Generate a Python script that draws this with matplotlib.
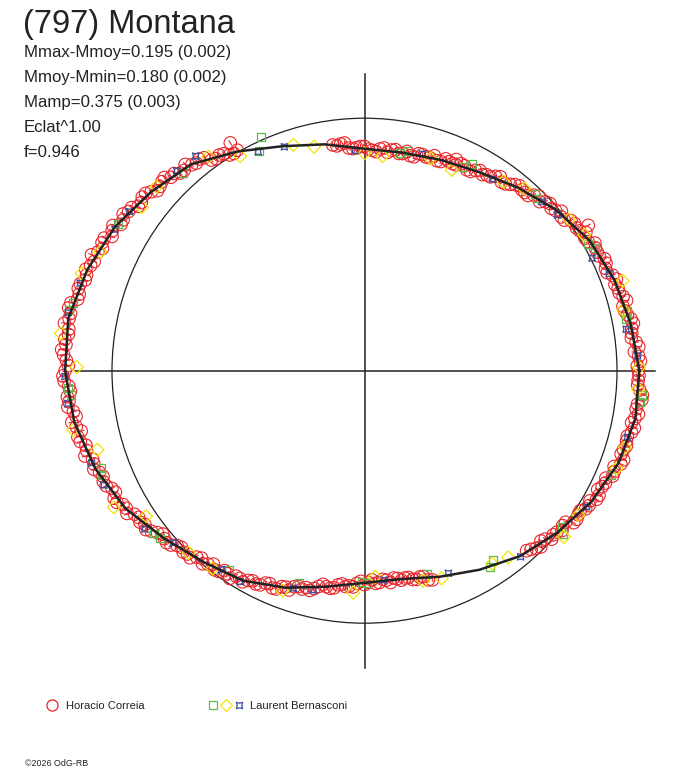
import numpy as np
import matplotlib.pyplot as plt
from matplotlib.patches import Circle
from matplotlib.collections import LineCollection

plt.rcParams['font.family'] = ['Liberation Sans', 'DejaVu Sans']

# fitted curve: phase angle (deg) -> magnitude relative to mean
fit_phase = [0, 10, 20, 30, 40, 50, 60, 70, 80, 90, 100, 110,
             120, 130, 140, 150, 160, 170, 180, 190, 200, 210, 220, 230,
             240, 250, 260, 270, 280, 290, 300, 310, 320, 330, 340, 350, 360]
fit_dmag = [-0.092, -0.074, -0.056, -0.032, 0.010, 0.060, 0.105, 0.129, 0.143, 0.140, 0.102, 0.060,
            -0.003, -0.071, -0.106, -0.143, -0.169, -0.190, -0.185, -0.168, -0.137, -0.096, -0.037, 0.011,
            0.044, 0.097, 0.153, 0.189, 0.192, 0.153, 0.102, 0.046, 0.003, -0.040, -0.074, -0.093, -0.092]

# Horacio Correia (even phases, then odd phases, then a few outliers)
correia_phase = (list(range(0, 100, 2)) + list(range(120, 290, 2)) + list(range(312, 360, 2))
                 + list(range(1, 99, 2)) + list(range(121, 289, 2)) + list(range(313, 361, 2))
                 + [120.5, 66.5, 33.0])
correia_dmag = [
    -0.088, -0.097, -0.075, -0.085, -0.072, -0.085, -0.068, -0.058, -0.069, -0.059,
    -0.065, -0.039, -0.050, -0.037, -0.038, -0.024, -0.036, -0.013, -0.012, 0.012,
    0.014, 0.012, 0.040, 0.037, 0.056, 0.049, 0.071, 0.087, 0.081, 0.097,
    0.096, 0.122, 0.111, 0.124, 0.123, 0.137, 0.120, 0.138, 0.132, 0.151,
    0.147, 0.134, 0.152, 0.138, 0.147, 0.129, 0.134, 0.134, 0.111, 0.111,
    -0.009, -0.008, -0.032, -0.033, -0.067, -0.068, -0.071, -0.089, -0.105, -0.094,
    -0.106, -0.120, -0.111, -0.130, -0.130, -0.152, -0.135, -0.158, -0.157, -0.156,
    -0.175, -0.164, -0.179, -0.171, -0.196, -0.187, -0.182, -0.192, -0.200, -0.181,
    -0.185, -0.189, -0.168, -0.177, -0.165, -0.177, -0.149, -0.161, -0.147, -0.135,
    -0.143, -0.120, -0.123, -0.101, -0.114, -0.093, -0.077, -0.076, -0.074, -0.044,
    -0.037, -0.034, -0.008, -0.010, 0.007, 0.002, 0.031, 0.019, 0.033, 0.045,
    0.038, 0.064, 0.063, 0.087, 0.076, 0.100, 0.115, 0.115, 0.118, 0.147,
    0.153, 0.153, 0.177, 0.171, 0.186, 0.180, 0.204, 0.188, 0.197, 0.203,
    0.186, 0.193, 0.174, 0.179, 0.150,
    0.045, 0.024, 0.032, 0.003, 0.006, 0.004, -0.026, -0.022, -0.035, -0.033,
    -0.055, -0.050, -0.049, -0.070, -0.084, -0.072, -0.083, -0.076, -0.096, -0.091,
    -0.090, -0.108, -0.096, -0.088,
    # odd phases
    -0.084, -0.091, -0.094, -0.068, -0.075, -0.079, -0.060, -0.078, -0.058, -0.052,
    -0.056, -0.039, -0.052, -0.037, -0.046, -0.020, -0.018, -0.017, 0.010, -0.004,
    0.022, 0.021, 0.025, 0.057, 0.056, 0.058, 0.083, 0.070, 0.096, 0.107,
    0.106, 0.123, 0.109, 0.125, 0.116, 0.139, 0.136, 0.131, 0.152, 0.133,
    0.150, 0.138, 0.132, 0.153, 0.142, 0.129, 0.138, 0.108, 0.118,
    -0.004, -0.026, -0.027, -0.059, -0.061, -0.086, -0.074, -0.087, -0.101, -0.090,
    -0.119, -0.110, -0.129, -0.142, -0.128, -0.145, -0.158, -0.147, -0.175, -0.163,
    -0.165, -0.177, -0.170, -0.192, -0.185, -0.201, -0.181, -0.186, -0.192, -0.173,
    -0.193, -0.173, -0.181, -0.183, -0.158, -0.164, -0.166, -0.144, -0.159, -0.136,
    -0.127, -0.127, -0.107, -0.116, -0.097, -0.101, -0.070, -0.065, -0.060, -0.030,
    -0.041, -0.016, -0.017, -0.014, 0.018, 0.016, 0.014, 0.037, 0.021, 0.045,
    0.056, 0.058, 0.081, 0.073, 0.095, 0.092, 0.122, 0.127, 0.132, 0.161,
    0.148, 0.171, 0.166, 0.167, 0.197, 0.191, 0.185, 0.203, 0.182, 0.198,
    0.194, 0.178, 0.182, 0.156,
    0.036, 0.014, 0.024, 0.010, -0.007, 0.003, -0.028, -0.020, -0.040, -0.054,
    -0.039, -0.056, -0.071, -0.062, -0.089, -0.076, -0.078, -0.089, -0.081, -0.102,
    -0.093, -0.108, -0.087, -0.091,
    # outliers
    -0.050, 0.100, -0.060]
correia_err = 0.012

# Laurent Bernasconi, three sessions
bern_sq_phase = [113.9, 115.7, 132.5, 149.3, 166.9, 168.4, 80.7, 79.1, 64.1, 62.6, 46.0, 45.0,
                 29.5, 28.0, 12.8, 11.1, 183.4, 184.7, 200.3, 201.6, 217.7, 219.3, 235.8, 252.9,
                 269.2, 270.6, 287.0, 304.1, 302.6, 321.6, 320.6, 337.0, 355.0, 353.6]
bern_sq_dmag = [-0.012, 0.040, -0.066, -0.139, -0.184, -0.192, 0.148, 0.130, 0.120, 0.088, 0.030, 0.039,
                -0.020, -0.036, -0.071, -0.057, -0.175, -0.167, -0.117, -0.123, -0.057, -0.050, 0.052, 0.141,
                0.195, 0.190, 0.187, 0.108, 0.089, 0.005, -0.020, -0.062, -0.106, -0.101]

bern_di_phase = [90.0, 85.2, 72.7, 66.5, 53.7, 48.8, 36.5, 31.7, 19.2, 13.2, 0.7, 120.1, 107.5,
                 102.7, 126.1, 138.5, 143.7, 155.8, 161.0, 173.0, 179.3, 191.5, 196.5, 208.6, 213.7,
                 226.0, 232.5, 249.6, 267.1, 272.9, 285.6, 290.4, 307.6, 320.2, 326.0, 338.8, 343.6,
                 356.1, 303.5]
bern_di_dmag = [0.162, 0.172, 0.137, 0.155, 0.080, 0.045, -0.009, -0.025, -0.086, -0.056, -0.091, 0.019, 0.070,
                0.103, -0.052, -0.103, -0.098, -0.150, -0.184, -0.208, -0.142, -0.177, -0.107, -0.133, -0.043,
                -0.003, 0.014, 0.079, 0.138, 0.219, 0.159, 0.142, 0.075, -0.030, -0.023, -0.074, -0.079,
                -0.090, 0.095]

bern_st_phase = [92.5, 75.0, 56.2, 43.6, 38.9, 26.3, 21.6, 9.0, 3.1, 115.9, 109.7, 128.2, 133.2,
                 145.9, 150.5, 162.9, 168.9, 181.1, 186.3, 198.7, 203.7, 215.8, 222.0, 234.3, 239.5,
                 251.9, 256.9, 275.3, 292.5, 310.0, 328.5, 345.8]
bern_st_dmag = [0.149, 0.128, 0.099, 0.033, 0.020, -0.006, -0.045, -0.052, -0.087, 0.040, 0.065, -0.085, -0.090,
                -0.127, -0.138, -0.178, -0.194, -0.186, -0.182, -0.143, -0.130, -0.076, -0.020, 0.034, 0.033,
                0.106, 0.124, 0.199, 0.153, 0.042, -0.034, -0.077]

title = "(797) Montana"
stats = ["Mmax-Mmoy=0.195 (0.002)", "Mmoy-Mmin=0.180 (0.002)", "Mamp=0.375 (0.003)",
         "Eclat^1.00", "f=0.946"]

RED = '#e8262b'
GREEN = '#5fb849'
YELLOW = '#f2e400'
BLUE = '#3c4f9e'
INK = '#222222'


def to_xy(phase, dmag):
    # radius = relative flux, 1 = mean brightness
    r = 10 ** (-0.4 * np.asarray(dmag, dtype=float))
    t = np.radians(np.asarray(phase, dtype=float))
    return r * np.cos(t), r * np.sin(t)


W, H = 688, 768
fig = plt.figure(figsize=(W / 100, H / 100), dpi=100)
ax = fig.add_axes([0, 0, 1, 1])
cx, cy, R = 364.5, 370.7, 252.5
ax.set_xlim(-cx / R, (W - cx) / R)
ax.set_ylim(-(H - cy) / R, cy / R)
ax.axis('off')

# axes cross and mean-brightness circle
ax.plot([-1.148, 1.150], [0, 0], color=INK, lw=1.1, zorder=1)
ax.plot([0, 0], [-1.177, 1.175], color=INK, lw=1.1, zorder=1)
ax.add_patch(Circle((0, 0), 1.0, fill=False, ec=INK, lw=0.9, zorder=1))

# Correia points with radial error bars
x, y = to_xy(correia_phase, correia_dmag)
x_in, y_in = to_xy(correia_phase, np.asarray(correia_dmag) + correia_err)
x_out, y_out = to_xy(correia_phase, np.asarray(correia_dmag) - correia_err)
segs = [[(a, b), (c, d)] for a, b, c, d in zip(x_in, y_in, x_out, y_out)]
ax.add_collection(LineCollection(segs, colors=RED, linewidths=0.8, zorder=2))
ax.scatter(x, y, s=81, facecolors='none', edgecolors=RED, linewidths=0.8, zorder=2)

# Bernasconi points
x, y = to_xy(bern_sq_phase, bern_sq_dmag)
ax.scatter(x, y, s=32, marker='s', facecolors='none', edgecolors=GREEN, linewidths=0.9, zorder=3)
x, y = to_xy(bern_di_phase, bern_di_dmag)
ax.scatter(x, y, s=44, marker='D', facecolors='none', edgecolors=YELLOW, linewidths=0.9, zorder=3)
x, y = to_xy(bern_st_phase, bern_st_dmag)
ax.scatter(x, y, s=42, marker=(4, 1, 45), facecolors='none', edgecolors=BLUE, linewidths=0.9, zorder=3)

# fitted curve
x, y = to_xy(fit_phase, fit_dmag)
ax.plot(x, y, color=INK, lw=1.8, zorder=5)


# texts (positions in pixels from top-left)
def px(xp, yp):
    return xp / W, 1 - yp / H


fig.text(*px(23, 32.5), title, fontsize=23.5, color=INK, va='baseline')
for i, s in enumerate(stats):
    fig.text(*px(24, 57 + 25 * i), s, fontsize=12.1, color=INK, va='baseline')

# legend
fig.lines.append(plt.Line2D([52.3 / W], [1 - 704.5 / H], transform=fig.transFigure, marker='o', ms=8,
                            mfc='none', mec=RED, mew=0.9, ls='none'))
fig.text(*px(66, 709), "Horacio Correia", fontsize=8.0, color=INK, va='baseline')
for xm, mk, col, ms in [(213.0, 's', GREEN, 5.6), (225.8, 'D', YELLOW, 6.0), (238.5, (4, 1, 45), BLUE, 6.5)]:
    fig.lines.append(plt.Line2D([xm / W], [1 - 705 / H], transform=fig.transFigure, marker=mk, ms=ms,
                                mfc='none', mec=col, mew=0.9, ls='none'))
fig.text(*px(250.5, 709), "Laurent Bernasconi", fontsize=8.0, color=INK, va='baseline')

fig.text(*px(25, 766), "\u00a92026 OdG-RB", fontsize=6.4, color=INK, va='baseline')

fig.savefig('out.png', dpi=100)
